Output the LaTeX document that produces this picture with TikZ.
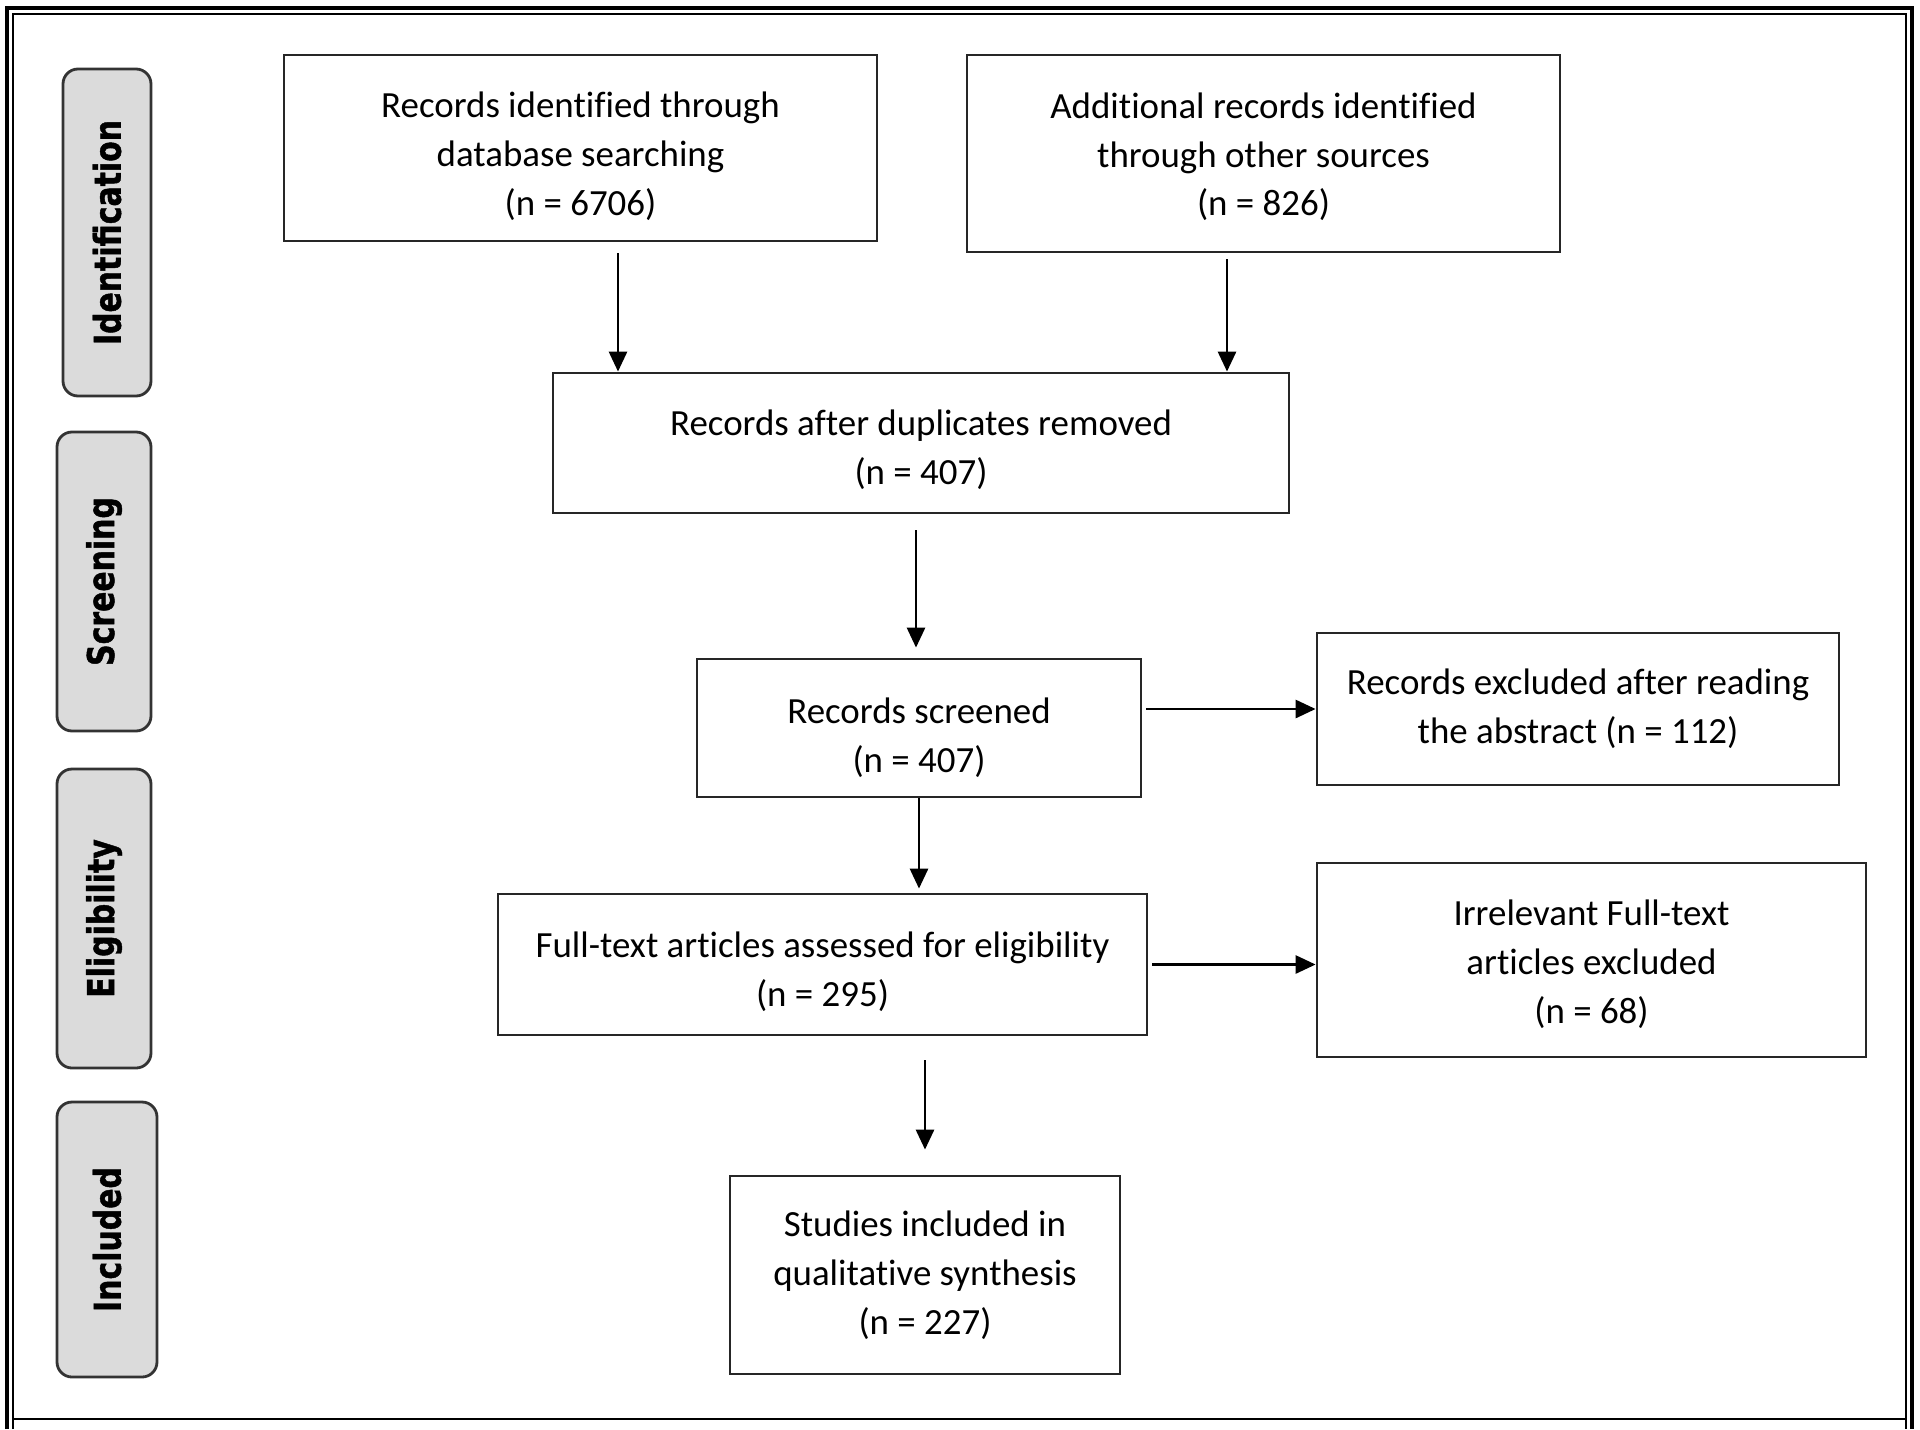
\documentclass[tikz,border=0pt]{standalone}
\usepackage{fontspec}
\setmainfont[Ligatures=NoCommon]{Carlito}
\newfontfamily\sidefont[FakeStretch=0.81,FakeBold=1.2]{DejaVu Sans Bold}
\usetikzlibrary{arrows.meta}

\begin{document}
\begin{tikzpicture}[->, >={Triangle[length=2mm,width=1.8mm]}, line width=0.8pt]
        \tikzstyle{box}=[draw=black!85,fill=white,align=center,inner sep=0pt,font=\fontsize{10.5}{13.9}\selectfont]
        \tikzstyle{phase}=[draw=black!80,fill=black!14,rounded corners=1.5mm,rotate=90,inner sep=0pt,font=\sidefont\fontsize{10.5}{12}\selectfont]
        \useasboundingbox (0,0) rectangle (19.2,-14.29);
        % frame
        \draw[-,line width=1.2pt] (0.07,-14.29) -- (0.07,-0.08) -- (19.12,-0.08) -- (19.12,-14.29);
        \draw[-,line width=0.5pt] (0.13,-14.29) -- (0.13,-0.14) -- (19.06,-0.14) -- (19.06,-14.29);
        \draw[-,line width=0.6pt] (0.13,-14.19) -- (19.06,-14.19);
        % phases
        \node[phase,minimum width=3.27cm,minimum height=0.88cm] (pIdent)  at (1.07,-2.325)  {Identification};
        \node[phase,minimum width=2.99cm,minimum height=0.94cm] (pScreen) at (1.04,-5.815)  {Screening};
        \node[phase,minimum width=2.99cm,minimum height=0.94cm] (pElig)   at (1.04,-9.185)  {Eligibility};
        \node[phase,minimum width=2.75cm,minimum height=1.00cm] (pIncl)   at (1.07,-12.395) {Included};
        % boxes (text height pushes the text a little down, as in the source)
        \node[box,minimum width=5.93cm,minimum height=1.86cm,text height=14mm]    (db)     at (5.805,-1.48)  {Records identified through\\database searching\\(n = 6706)};
        \node[box,minimum width=5.93cm,minimum height=1.97cm,text height=13mm]    (other)  at (12.635,-1.535) {Additional records identified\\through other sources\\(n = 826)};
        \node[box,minimum width=7.36cm,minimum height=1.40cm,text height=8.85mm]  (dup)    at (9.21,-4.43)   {Records after duplicates removed\\(n = 407)};
        \node[box,minimum width=4.44cm,minimum height=1.38cm,text height=9.35mm]  (screen) at (9.19,-7.28)   {Records screened\\(n = 407)};
        \node[box,minimum width=5.22cm,minimum height=1.52cm]                     (excl)   at (15.78,-7.09)  {Records excluded after reading\\the abstract (n = 112)};
        \node[box,minimum width=6.49cm,minimum height=1.41cm,text height=8.85mm]  (full)   at (8.225,-9.645) {Full-text articles assessed for eligibility\\(n = 295)};
        \node[box,minimum width=5.49cm,minimum height=1.94cm,text height=13.15mm] (irr)    at (15.915,-9.60) {Irrelevant Full-text\\articles excluded\\(n = 68)};
        \node[box,minimum width=3.90cm,minimum height=1.98cm]                     (incl)   at (9.25,-12.75)  {Studies included in\\qualitative synthesis\\(n = 227)};
        % arrow feet
        \coordinate (t1) at ([xshift=3.75mm]db.south);
        \coordinate (t2) at ([xshift=-3.65mm]other.south);
        \coordinate (t3) at ([xshift=-0.5mm]dup.south);
        \coordinate (t4) at (incl.north |- full.south);
        \coordinate (t5) at (screen.east |- excl.west);
        \path
        (t1) edge[shorten <=1.1mm] (t1 |- dup.north)
        (t2) edge[shorten <=0.6mm] (t2 |- dup.north)
        (t3) edge[shorten <=1.6mm, shorten >=1mm] (t3 |- screen.north)
        (t5) edge[shorten <=0.4mm] (excl.west)
        (screen.south) edge[shorten >=0.4mm] (screen.south |- full.north)
        (full.east) edge[shorten <=0.4mm] (full.east -| irr.west)
        (t4) edge[shorten <=2.4mm, shorten >=2.5mm] (incl.north);
\end{tikzpicture}
\end{document}
